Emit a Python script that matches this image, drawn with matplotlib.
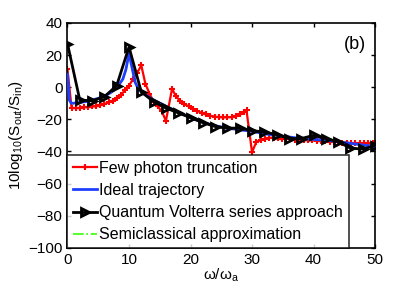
import numpy as np
import matplotlib
matplotlib.use('Agg')
import matplotlib.pyplot as plt

plt.rcParams['font.family'] = ['Liberation Sans', 'DejaVu Sans']
plt.rcParams['mathtext.fontset'] = 'custom'
plt.rcParams['mathtext.rm'] = 'Liberation Sans'
plt.rcParams['mathtext.it'] = 'Liberation Sans'

# few photon truncation (red)
red_x = [0, 0.67, 1.33, 2, 2.67, 3.33, 4, 4.67, 5.33, 6, 6.67, 7.33, 8, 8.67, 9.33,
         10, 10.67, 11.33, 12, 12.67, 13.33, 14, 14.67, 15.33, 16, 17, 17.6, 18.3,
         19, 19.7, 20.4, 21.1, 21.8, 22.5, 23.2, 23.9, 24.6, 25.3, 26, 26.7, 27.4,
         28.1, 28.7, 29.1, 30, 30.7, 31.4, 32.1, 32.8, 33.5, 34.2, 34.9, 35.6, 36.3,
         37, 37.7, 38.4, 39.1, 39.8, 40.5, 41.2, 41.9, 42.6, 43.3, 44, 44.7, 45.4,
         46.1, 46.8, 47.5, 48.2, 48.9, 49.6, 50]
red_y = [11, -13, -13, -13, -12.5, -12.5, -12, -12, -11, -10.5, -9.5, -8.5, -7, -5, -2,
         1, 5, 9, 13.5, 2, -4, -9, -12, -15, -21, -1, -5.5, -8.5,
         -10.5, -12, -13.5, -14.8, -16, -17, -17.8, -18.3, -18.7, -18.8, -18.8, -18.6, -18,
         -17, -15.5, -14.5, -40.5, -34, -33, -32, -31.5, -31.5, -31.5, -32, -32, -32.5,
         -33, -33, -33, -33, -33, -33.5, -33.5, -33.5, -34, -34, -34, -34.5, -34.5,
         -35, -35, -35, -35, -35, -35, -35]

# ideal trajectory (blue)
blue_x = [0, 0.3, 0.6, 1, 2, 3, 4, 5, 6, 7, 8, 9, 9.5, 10, 10.5, 11, 11.5, 12, 14, 16,
          18, 20, 22, 24, 26, 28, 30, 32, 34, 36, 38, 40, 42, 44, 46, 48, 50]
blue_y = [8, -8, -10, -10, -9.5, -9, -8, -7, -5.5, -3.5, -0.5, 5, 11, 21, 12, 3, -1, -3,
          -8, -12, -15.5, -19, -22, -24, -25.5, -26.5, -27.5, -29, -30, -31, -32, -32.5,
          -33, -34, -35, -36, -37]

# quantum Volterra series (black)
volt_x = [0, 2, 4, 6, 8, 10, 12, 14, 16, 18, 20, 22, 24, 26, 28, 30, 32, 34, 36, 38,
          40, 42, 44, 46, 48, 50]
volt_y = [27, -8, -8.5, -6, 1, 25, -3, -9, -13, -16, -19, -22, -24.5, -25.5, -25.5, -27,
          -28, -29.5, -32, -32, -30, -32, -34, -38, -38.5, -36.5]

# semiclassical approximation (green), lies under the other curves
semi_x = blue_x
semi_y = blue_y

fig = plt.figure(figsize=(4.14, 2.93), dpi=100)
ax = fig.add_axes([0.163, 0.154, 0.743, 0.768])

ax.plot(semi_x, semi_y, '-.', color='#33ff00', lw=1.2, zorder=1,
        label='Semiclassical approximation')
ax.plot(red_x, red_y, '-', color='red', lw=1.6, marker='+', ms=5, mew=1.5, zorder=2,
        label='Few photon truncation')
ax.plot(blue_x, blue_y, '-', color='#1f3fff', lw=2, zorder=3, label='Ideal trajectory')
ax.plot(volt_x, volt_y, '-', color='black', lw=2, marker='>', ms=6, mfc='none', mew=2,
        zorder=4, label='Quantum Volterra series approach')

ax.set_xlim(0, 50)
ax.set_ylim(-100, 40)
ax.set_xticks(np.arange(0, 51, 10))
ax.set_yticks(np.arange(-100, 41, 20))
ax.tick_params(direction='in', top=True, right=True, labelsize=11, length=3, width=1)
for s in ax.spines.values():
    s.set_linewidth(1.2)

ax.set_xlabel(r'$\omega/\omega_\mathrm{a}$', fontsize=11, labelpad=0)
ax.set_ylabel(r'10log$_{10}$(S$_\mathrm{out}$/S$_\mathrm{in}$)', fontsize=11, labelpad=2)
ax.text(0.97, 0.94, '(b)', transform=ax.transAxes, ha='right', va='top', fontsize=13)

h, l = ax.get_legend_handles_labels()
order = [1, 2, 3, 0]
leg = ax.legend([h[i] for i in order], [l[i] for i in order], loc='lower left',
                prop={'size': 11.5}, frameon=True, fancybox=False, borderaxespad=0,
                handlelength=1.5, handletextpad=0.15, labelspacing=0.45,
                borderpad=0.35)
leg.get_frame().set_edgecolor('black')
leg.get_frame().set_linewidth(1.2)

plt.savefig('out.png', dpi=100)
